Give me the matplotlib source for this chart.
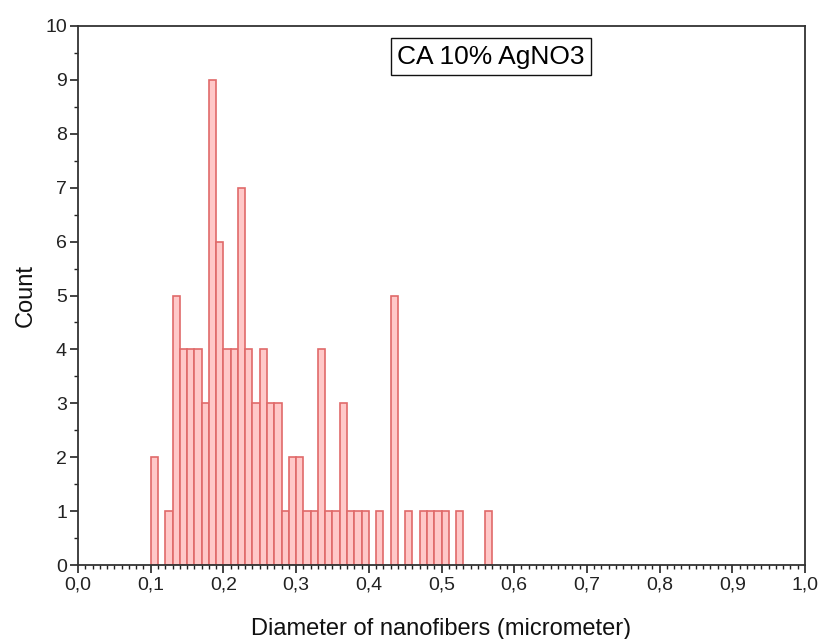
import matplotlib
matplotlib.use("Agg")
import matplotlib.pyplot as plt
from matplotlib.ticker import MultipleLocator, FuncFormatter

bin_starts = [0.10, 0.11, 0.12, 0.13, 0.14, 0.15, 0.16, 0.17, 0.18, 0.19,
              0.20, 0.21, 0.22, 0.23, 0.24, 0.25, 0.26, 0.27, 0.28, 0.29,
              0.30, 0.31, 0.32, 0.33, 0.34, 0.35, 0.36, 0.37, 0.38, 0.39,
              0.40, 0.41, 0.42, 0.43, 0.44, 0.45, 0.46, 0.47, 0.48, 0.49,
              0.50, 0.51, 0.52, 0.53, 0.54, 0.55, 0.56]
counts = [2, 0, 1, 5, 4, 4, 4, 3, 9, 6,
          4, 4, 7, 4, 3, 4, 3, 3, 1, 2,
          2, 1, 1, 4, 1, 1, 3, 1, 1, 1,
          0, 1, 0, 5, 0, 1, 0, 1, 1, 1,
          1, 0, 1, 0, 0, 0, 1]
bin_width = 0.01
title_text = "CA 10% AgNO3"
xlabel = "Diameter of nanofibers (micrometer)"
ylabel = "Count"

plt.rcParams['font.family'] = ['Liberation Sans', 'DejaVu Sans']

fig = plt.figure(figsize=(8.22, 6.39), dpi=100)
ax = fig.add_axes([78/822, 1-565/639, (805-78)/822, (565-26)/639])

xs = [b for b, c in zip(bin_starts, counts) if c > 0]
hs = [c for c in counts if c > 0]
ax.bar(xs, hs, width=bin_width, align='edge', color='#ffc8c8',
       edgecolor='#e06a6a', linewidth=1.2)

ax.set_xlim(0, 1.0)
ax.set_ylim(0, 10)
ax.xaxis.set_major_locator(MultipleLocator(0.1))
ax.xaxis.set_minor_locator(MultipleLocator(0.01))
ax.yaxis.set_major_locator(MultipleLocator(1))
ax.yaxis.set_minor_locator(MultipleLocator(0.5))
ax.xaxis.set_major_formatter(FuncFormatter(lambda v, p: f"{v:.1f}".replace('.', ',')))
ax.yaxis.set_major_formatter(FuncFormatter(lambda v, p: f"{int(round(v))}"))

ax.tick_params(axis='both', which='major', direction='out', length=6, width=1.2,
               labelsize=14, colors='#222222', pad=2)
ax.tick_params(axis='both', which='minor', direction='out', length=3, width=1.0,
               colors='#222222')
for s in ax.spines.values():
    s.set_linewidth(1.3)
    s.set_color('#333333')

ax.set_xlabel(xlabel, fontsize=17, labelpad=18, color='#111111')
ax.set_ylabel(ylabel, fontsize=17, labelpad=6, color='#111111')

ax.text(0.568, 0.965, title_text, transform=ax.transAxes, fontsize=19,
        ha='center', va='top',
        bbox=dict(boxstyle='square,pad=0.25', facecolor='white',
                  edgecolor='#111111', linewidth=1.0))

fig.savefig("out.png", dpi=100)
